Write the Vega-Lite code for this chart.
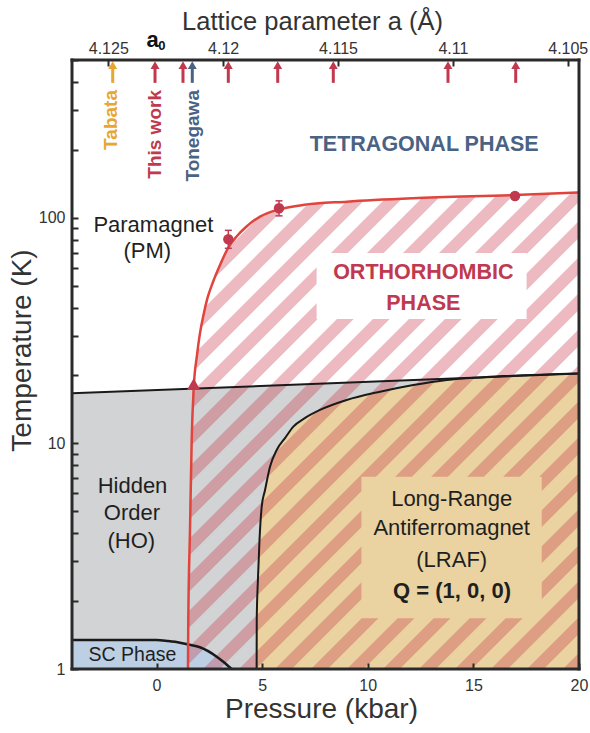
{
  "$schema": "https://vega.github.io/schema/vega-lite/v6.json",
  "width": 507,
  "height": 609,
  "autosize": {"type": "none"},
  "padding": {"left": 72, "top": 60, "right": 11, "bottom": 64},
  "background": "white",
  "config": {
    "font": "Liberation Sans",
    "view": {"stroke": null},
    "axis": {"grid": false, "domain": false, "labelColor": "#333333", "titleColor": "#333333", "tickColor": "#2a2a2a", "labelFlush": false, "labelOverlap": false, "labelFont": "Liberation Sans", "titleFont": "Liberation Sans", "titleFontWeight": "normal"}
  },
  "datasets": {
    "ho": [{"p": -4, "t": 16.66}, {"p": 20, "t": 20.4}],
    "lraf": [{"p": 4.74, "t": 1}, {"p": 4.745, "t": 1.65}, {"p": 4.8, "t": 2.48}, {"p": 4.876, "t": 3.73}, {"p": 4.98, "t": 5.24}, {"p": 5.136, "t": 6.2}, {"p": 5.373, "t": 7.88}, {"p": 5.69, "t": 9.35}, {"p": 6.1, "t": 10.6}, {"p": 6.476, "t": 11.86}, {"p": 7.0, "t": 12.9}, {"p": 7.74, "t": 14.06}, {"p": 9.0, "t": 15.56}, {"p": 10.58, "t": 16.94}, {"p": 12.16, "t": 18.14}, {"p": 13.74, "t": 19.1}, {"p": 15.5, "t": 19.64}, {"p": 20, "t": 20.4}],
    "sc": [{"p": -4, "t": 1.344}, {"p": 0, "t": 1.344}, {"p": 0.545, "t": 1.33}, {"p": 1.11, "t": 1.308}, {"p": 1.5, "t": 1.284}, {"p": 2.059, "t": 1.248}, {"p": 2.85, "t": 1.134}, {"p": 3.162, "t": 1.077}, {"p": 3.56, "t": 1}],
    "red": [{"p": 1.49, "t": 1}, {"p": 1.505, "t": 1.65}, {"p": 1.586, "t": 4.13}, {"p": 1.666, "t": 10.35}, {"p": 1.76, "t": 17.5}, {"p": 1.917, "t": 24.6}, {"p": 2.059, "t": 30.8}, {"p": 2.225, "t": 37.1}, {"p": 2.414, "t": 44.1}, {"p": 2.675, "t": 51.9}, {"p": 3.006, "t": 61.7}, {"p": 3.385, "t": 73.4}, {"p": 3.811, "t": 83.0}, {"p": 4.237, "t": 91.0}, {"p": 4.9, "t": 101.2}, {"p": 5.799, "t": 108.8}, {"p": 6.935, "t": 113.9}, {"p": 9.018, "t": 117.8}, {"p": 12.142, "t": 121.9}, {"p": 16.97, "t": 126.1}, {"p": 20, "t": 129.4}],
    "grayCover": [{"p": -4, "t": 16.66, "t2": 1}, {"p": 1.49, "t": 17.45, "t2": 1}, {"p": 1.505, "t": 17.45, "t2": 1.65}, {"p": 1.586, "t": 17.46, "t2": 4.13}, {"p": 1.666, "t": 17.48, "t2": 10.35}, {"p": 1.76, "t": 17.5, "t2": 17.5}],
    "stripe": [{"p": -8.7337, "t": 1387.4}, {"p": 33.87, "t": 0.14238}],
    "markers": [{"p": 3.4, "t": 80.3, "lo": 73.2, "hi": 87.9}, {"p": 5.8, "t": 110.1, "lo": 101.9, "hi": 118.8}, {"p": 16.97, "t": 124.8, "lo": 121.5, "hi": 128.0}],
    "tri": [{"p": 1.76, "t": 18.3}],
    "arrows": [{"p": -2.073, "who": "Tabata"}, {"p": -0.07, "who": "This work"}, {"p": 1.254, "who": "This work"}, {"p": 1.694, "who": "Tonegawa"}, {"p": 3.399, "who": "This work"}, {"p": 5.738, "who": "This work"}, {"p": 8.369, "who": "This work"}, {"p": 13.799, "who": "This work"}, {"p": 17.004, "who": "This work"}],
    "sources": [{"p": -2.15, "who": "Tabata"}, {"p": -0.07, "who": "This work"}, {"p": 1.72, "who": "Tonegawa"}],
    "txt": [{"p": -0.151, "t": 86.7, "label": "Paramagnet"}, {"p": -0.44, "t": 66.1, "label": "(PM)"}, {"p": -1.136, "t": 6.01, "label": "Hidden"}, {"p": -1.16, "t": 4.575, "label": "Order"}, {"p": -1.19, "t": 3.43, "label": "(HO)"}, {"p": 13.974, "t": 5.29, "label": "Long-Range"}, {"p": 13.974, "t": 3.92, "label": "Antiferromagnet"}, {"p": 13.974, "t": 2.84, "label": "(LRAF)"}],
    "qtxt": [{"p": 13.99, "t": 2.057, "label": "Q = (1, 0, 0)"}],
    "sctxt": [{"p": -1.136, "t": 1.089, "label": "SC Phase"}],
    "tettxt": [{"p": 12.672, "t": 198.2, "label": "TETRAGONAL PHASE"}],
    "orthotxt": [{"p": 12.63, "t": 53.4, "label": "ORTHORHOMBIC"}, {"p": 12.63, "t": 39.0, "label": "PHASE"}],
    "a0": [{"p": -0.189, "t": 572.7, "label": "a"}],
    "a0sub": [{"p": 0.085, "t": 552, "label": "0"}],
    "vframe": [{"p": -4}, {"p": 20}],
    "hframe": [{"t": 1}, {"t": 500}]
  },
  "layer": [
    {
      "layer": [
        {
          "data": {"name": "ho"},
          "mark": {"type": "area", "color": "#d1d3d4", "opacity": 1},
          "encoding": {
            "x": {"field": "p", "type": "quantitative", "scale": {"domain": [-4, 20], "nice": false, "zero": false},
              "axis": {"title": "Pressure (kbar)", "values": [0, 5, 10, 15, 20], "tickSize": -6, "tickWidth": 2, "labelFontSize": 16, "labelPadding": 14, "titleFontSize": 28, "titleBaseline": "alphabetic", "titleY": 48, "titleX": 249, "zindex": 1}},
            "y": {"field": "t", "type": "quantitative", "scale": {"type": "log", "domain": [1, 500], "nice": false},
              "axis": {"title": "Temperature (K)", "values": [1, 2, 3, 4, 5, 6, 7, 8, 9, 10, 20, 30, 40, 50, 60, 70, 80, 90, 100, 200, 300, 400, 500],
                "labelExpr": "datum.value == 1 ? '1' : datum.value == 10 ? '10' : datum.value == 100 ? '100' : ''",
                "tickSize": -6, "tickWidth": 2, "labelFontSize": 16, "labelPadding": 13, "titleFontSize": 28, "titleAngle": 270, "titleAlign": "center", "titleBaseline": "alphabetic", "titleX": -42, "titleY": 290, "zindex": 1}},
            "y2": {"datum": 1}
          }
        },
        {
          "data": {"name": "lraf"},
          "mark": {"type": "area", "color": "#ead3a0", "opacity": 1, "interpolate": "monotone"},
          "encoding": {
            "x": {"field": "p", "type": "quantitative", "scale": {"domain": [-4, 20], "nice": false, "zero": false}},
            "y": {"field": "t", "type": "quantitative", "scale": {"type": "log", "domain": [1, 500], "nice": false}},
            "y2": {"datum": 1}
          }
        },
        {
          "data": {"name": "sc"},
          "mark": {"type": "area", "color": "#bccfe3", "opacity": 1, "interpolate": "monotone"},
          "encoding": {
            "x": {"field": "p", "type": "quantitative", "scale": {"domain": [-4, 20], "nice": false, "zero": false}},
            "y": {"field": "t", "type": "quantitative", "scale": {"type": "log", "domain": [1, 500], "nice": false}},
            "y2": {"datum": 1}
          }
        },
        {
          "data": {"name": "stripe"},
          "mark": {"type": "line", "clip": true, "stroke": "#c9404f", "strokeOpacity": 0.36, "strokeWidth": 1000, "strokeCap": "butt", "strokeDash": [11.8, 13.656], "strokeDashOffset": 22.63},
          "encoding": {
            "x": {"field": "p", "type": "quantitative", "scale": {"domain": [-4, 20], "nice": false, "zero": false}},
            "y": {"field": "t", "type": "quantitative", "scale": {"type": "log", "domain": [1, 500], "nice": false}}
          }
        },
        {
          "data": {"values": [{}]},
          "mark": {"type": "rect", "color": "white", "opacity": 1},
          "encoding": {
            "x": {"datum": -4, "type": "quantitative", "scale": {"domain": [-4, 20], "nice": false, "zero": false}},
            "x2": {"datum": 1.49},
            "y": {"datum": 1, "type": "quantitative", "scale": {"type": "log", "domain": [1, 500], "nice": false}},
            "y2": {"datum": 500}
          }
        },
        {
          "data": {"name": "red"},
          "mark": {"type": "area", "color": "white", "opacity": 1, "interpolate": "monotone"},
          "encoding": {
            "x": {"field": "p", "type": "quantitative", "scale": {"domain": [-4, 20], "nice": false, "zero": false}},
            "y": {"field": "t", "type": "quantitative", "scale": {"type": "log", "domain": [1, 500], "nice": false}},
            "y2": {"datum": 500}
          }
        },
        {
          "data": {"name": "grayCover"},
          "mark": {"type": "area", "color": "#d1d3d4", "opacity": 1},
          "encoding": {
            "x": {"field": "p", "type": "quantitative", "scale": {"domain": [-4, 20], "nice": false, "zero": false}},
            "y": {"field": "t", "type": "quantitative", "scale": {"type": "log", "domain": [1, 500], "nice": false}},
            "y2": {"field": "t2"}
          }
        },
        {
          "data": {"name": "sc"},
          "transform": [{"filter": "datum.p <= 1.5"}],
          "mark": {"type": "area", "color": "#bccfe3", "opacity": 1, "interpolate": "monotone"},
          "encoding": {
            "x": {"field": "p", "type": "quantitative", "scale": {"domain": [-4, 20], "nice": false, "zero": false}},
            "y": {"field": "t", "type": "quantitative", "scale": {"type": "log", "domain": [1, 500], "nice": false}},
            "y2": {"datum": 1}
          }
        },
        {
          "data": {"values": [{}]},
          "mark": {"type": "rect", "color": "white", "opacity": 1},
          "encoding": {
            "x": {"datum": 7.58, "type": "quantitative", "scale": {"domain": [-4, 20], "nice": false, "zero": false}},
            "x2": {"datum": 17.52},
            "y": {"datum": 35.6, "type": "quantitative", "scale": {"type": "log", "domain": [1, 500], "nice": false}},
            "y2": {"datum": 69.8}
          }
        },
        {
          "data": {"values": [{}]},
          "mark": {"type": "rect", "color": "#ead3a0", "opacity": 1},
          "encoding": {
            "x": {"datum": 9.7, "type": "quantitative", "scale": {"domain": [-4, 20], "nice": false, "zero": false}},
            "x2": {"datum": 18.235},
            "y": {"datum": 1.677, "type": "quantitative", "scale": {"type": "log", "domain": [1, 500], "nice": false}},
            "y2": {"datum": 7.115}
          }
        },
        {
          "data": {"name": "ho"},
          "mark": {"type": "line", "color": "#1a1a1a", "strokeWidth": 2},
          "encoding": {
            "x": {"field": "p", "type": "quantitative", "scale": {"domain": [-4, 20], "nice": false, "zero": false}},
            "y": {"field": "t", "type": "quantitative", "scale": {"type": "log", "domain": [1, 500], "nice": false}}
          }
        },
        {
          "data": {"name": "lraf"},
          "mark": {"type": "line", "color": "#1a1a1a", "strokeWidth": 2, "interpolate": "monotone"},
          "encoding": {
            "x": {"field": "p", "type": "quantitative", "scale": {"domain": [-4, 20], "nice": false, "zero": false}},
            "y": {"field": "t", "type": "quantitative", "scale": {"type": "log", "domain": [1, 500], "nice": false}}
          }
        },
        {
          "data": {"name": "sc"},
          "mark": {"type": "line", "color": "#1a1a1a", "strokeWidth": 2.5, "interpolate": "monotone"},
          "encoding": {
            "x": {"field": "p", "type": "quantitative", "scale": {"domain": [-4, 20], "nice": false, "zero": false}},
            "y": {"field": "t", "type": "quantitative", "scale": {"type": "log", "domain": [1, 500], "nice": false}}
          }
        },
        {
          "data": {"name": "red"},
          "mark": {"type": "line", "color": "#e0443c", "strokeWidth": 2.5, "interpolate": "monotone"},
          "encoding": {
            "x": {"field": "p", "type": "quantitative", "scale": {"domain": [-4, 20], "nice": false, "zero": false}},
            "y": {"field": "t", "type": "quantitative", "scale": {"type": "log", "domain": [1, 500], "nice": false}}
          }
        },
        {
          "data": {"name": "markers"},
          "mark": {"type": "rule", "color": "#c0394f", "strokeWidth": 1.5},
          "encoding": {
            "x": {"field": "p", "type": "quantitative", "scale": {"domain": [-4, 20], "nice": false, "zero": false}},
            "y": {"field": "lo", "type": "quantitative", "scale": {"type": "log", "domain": [1, 500], "nice": false}},
            "y2": {"field": "hi"}
          }
        },
        {
          "data": {"name": "markers"},
          "mark": {"type": "tick", "color": "#c0394f", "orient": "horizontal", "size": 7, "thickness": 1.5, "opacity": 1},
          "encoding": {
            "x": {"field": "p", "type": "quantitative", "scale": {"domain": [-4, 20], "nice": false, "zero": false}},
            "y": {"field": "lo", "type": "quantitative", "scale": {"type": "log", "domain": [1, 500], "nice": false}}
          }
        },
        {
          "data": {"name": "markers"},
          "mark": {"type": "tick", "color": "#c0394f", "orient": "horizontal", "size": 7, "thickness": 1.5, "opacity": 1},
          "encoding": {
            "x": {"field": "p", "type": "quantitative", "scale": {"domain": [-4, 20], "nice": false, "zero": false}},
            "y": {"field": "hi", "type": "quantitative", "scale": {"type": "log", "domain": [1, 500], "nice": false}}
          }
        },
        {
          "data": {"name": "markers"},
          "mark": {"type": "point", "filled": true, "color": "#c0394f", "size": 108, "opacity": 1, "shape": "circle"},
          "encoding": {
            "x": {"field": "p", "type": "quantitative", "scale": {"domain": [-4, 20], "nice": false, "zero": false}},
            "y": {"field": "t", "type": "quantitative", "scale": {"type": "log", "domain": [1, 500], "nice": false}}
          }
        },
        {
          "data": {"name": "tri"},
          "mark": {"type": "point", "filled": true, "color": "#c0394f", "size": 180, "opacity": 1, "shape": "triangle-up"},
          "encoding": {
            "x": {"field": "p", "type": "quantitative", "scale": {"domain": [-4, 20], "nice": false, "zero": false}},
            "y": {"field": "t", "type": "quantitative", "scale": {"type": "log", "domain": [1, 500], "nice": false}}
          }
        },
        {
          "data": {"name": "arrows"},
          "mark": {"type": "rule", "strokeWidth": 3},
          "encoding": {
            "x": {"field": "p", "type": "quantitative", "scale": {"domain": [-4, 20], "nice": false, "zero": false}},
            "y": {"datum": 396, "type": "quantitative", "scale": {"type": "log", "domain": [1, 500], "nice": false}},
            "y2": {"datum": 462},
            "color": {"field": "who", "type": "nominal", "scale": {"domain": ["Tabata", "This work", "Tonegawa"], "range": ["#e8a630", "#c0394f", "#4a6283"]}, "legend": null}
          }
        },
        {
          "data": {"name": "arrows"},
          "mark": {"type": "point", "filled": true, "size": 80, "opacity": 1, "shape": "triangle-up"},
          "encoding": {
            "x": {"field": "p", "type": "quantitative", "scale": {"domain": [-4, 20], "nice": false, "zero": false}},
            "y": {"datum": 474, "type": "quantitative", "scale": {"type": "log", "domain": [1, 500], "nice": false}},
            "color": {"field": "who", "type": "nominal", "scale": {"domain": ["Tabata", "This work", "Tonegawa"], "range": ["#e8a630", "#c0394f", "#4a6283"]}, "legend": null}
          }
        },
        {
          "data": {"name": "sources"},
          "mark": {"type": "text", "angle": 270, "align": "right", "baseline": "middle", "fontSize": 19, "fontWeight": "bold"},
          "encoding": {
            "x": {"field": "p", "type": "quantitative", "scale": {"domain": [-4, 20], "nice": false, "zero": false}},
            "y": {"datum": 368, "type": "quantitative", "scale": {"type": "log", "domain": [1, 500], "nice": false}},
            "text": {"field": "who"},
            "color": {"field": "who", "type": "nominal", "scale": {"domain": ["Tabata", "This work", "Tonegawa"], "range": ["#e8a630", "#c0394f", "#4a6283"]}, "legend": null}
          }
        },
        {
          "data": {"name": "txt"},
          "mark": {"type": "text", "align": "center", "baseline": "alphabetic", "fontSize": 22, "color": "#1f1f1f"},
          "encoding": {
            "x": {"field": "p", "type": "quantitative", "scale": {"domain": [-4, 20], "nice": false, "zero": false}},
            "y": {"field": "t", "type": "quantitative", "scale": {"type": "log", "domain": [1, 500], "nice": false}},
            "text": {"field": "label"}
          }
        },
        {
          "data": {"name": "qtxt"},
          "mark": {"type": "text", "align": "center", "baseline": "alphabetic", "fontSize": 22, "fontWeight": "bold", "color": "#1f1f1f"},
          "encoding": {
            "x": {"field": "p", "type": "quantitative", "scale": {"domain": [-4, 20], "nice": false, "zero": false}},
            "y": {"field": "t", "type": "quantitative", "scale": {"type": "log", "domain": [1, 500], "nice": false}},
            "text": {"field": "label"}
          }
        },
        {
          "data": {"name": "sctxt"},
          "mark": {"type": "text", "align": "center", "baseline": "alphabetic", "fontSize": 19.5, "color": "#1f1f1f"},
          "encoding": {
            "x": {"field": "p", "type": "quantitative", "scale": {"domain": [-4, 20], "nice": false, "zero": false}},
            "y": {"field": "t", "type": "quantitative", "scale": {"type": "log", "domain": [1, 500], "nice": false}},
            "text": {"field": "label"}
          }
        },
        {
          "data": {"name": "tettxt"},
          "mark": {"type": "text", "align": "center", "baseline": "alphabetic", "fontSize": 21.5, "fontWeight": "bold", "color": "#4a6283"},
          "encoding": {
            "x": {"field": "p", "type": "quantitative", "scale": {"domain": [-4, 20], "nice": false, "zero": false}},
            "y": {"field": "t", "type": "quantitative", "scale": {"type": "log", "domain": [1, 500], "nice": false}},
            "text": {"field": "label"}
          }
        },
        {
          "data": {"name": "orthotxt"},
          "mark": {"type": "text", "align": "center", "baseline": "alphabetic", "fontSize": 21.5, "fontWeight": "bold", "color": "#c0394f"},
          "encoding": {
            "x": {"field": "p", "type": "quantitative", "scale": {"domain": [-4, 20], "nice": false, "zero": false}},
            "y": {"field": "t", "type": "quantitative", "scale": {"type": "log", "domain": [1, 500], "nice": false}},
            "text": {"field": "label"}
          }
        },
        {
          "data": {"name": "a0"},
          "mark": {"type": "text", "align": "center", "baseline": "alphabetic", "fontSize": 22, "fontWeight": "bold", "color": "#111111"},
          "encoding": {
            "x": {"field": "p", "type": "quantitative", "scale": {"domain": [-4, 20], "nice": false, "zero": false}},
            "y": {"field": "t", "type": "quantitative", "scale": {"type": "log", "domain": [1, 500], "nice": false}},
            "text": {"field": "label"}
          }
        },
        {
          "data": {"name": "a0sub"},
          "mark": {"type": "text", "align": "left", "baseline": "alphabetic", "fontSize": 13, "fontWeight": "bold", "color": "#111111"},
          "encoding": {
            "x": {"field": "p", "type": "quantitative", "scale": {"domain": [-4, 20], "nice": false, "zero": false}},
            "y": {"field": "t", "type": "quantitative", "scale": {"type": "log", "domain": [1, 500], "nice": false}},
            "text": {"field": "label"}
          }
        },
        {
          "data": {"name": "vframe"},
          "mark": {"type": "rule", "color": "#2a2a2a", "strokeWidth": 3, "strokeCap": "square"},
          "encoding": {
            "x": {"field": "p", "type": "quantitative", "scale": {"domain": [-4, 20], "nice": false, "zero": false}}
          }
        },
        {
          "data": {"name": "hframe"},
          "mark": {"type": "rule", "color": "#2a2a2a", "strokeWidth": 3, "strokeCap": "square"},
          "encoding": {
            "y": {"field": "t", "type": "quantitative", "scale": {"type": "log", "domain": [1, 500], "nice": false}}
          }
        }
      ]
    },
    {
      "data": {"values": [{}]},
      "mark": {"type": "rule", "opacity": 0},
      "encoding": {
        "x": {"datum": 4.115, "type": "quantitative", "scale": {"domain": [4.12658, 4.10451], "nice": false, "zero": false},
          "axis": {"orient": "top", "title": "Lattice parameter a (Å)", "values": [4.125, 4.12, 4.115, 4.11, 4.105], "format": ".3~f", "tickSize": -6, "tickWidth": 2, "labelFontSize": 16, "labelPadding": 10, "titleFontSize": 25.5, "titleBaseline": "alphabetic", "titleY": -31, "titleX": 240, "zindex": 1}}
      }
    }
  ],
  "resolve": {"scale": {"x": "independent"}, "axis": {"x": "independent"}}
}
